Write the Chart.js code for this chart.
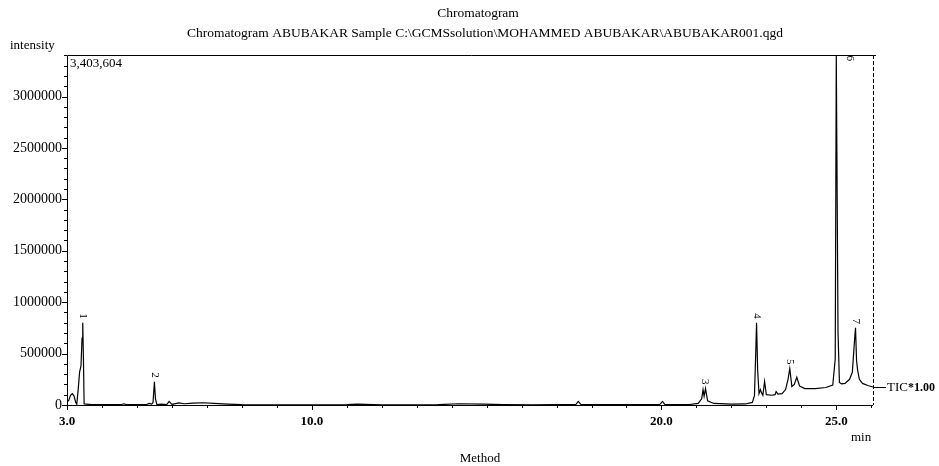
<!DOCTYPE html>
<html>
<head>
<meta charset="utf-8">
<script src="https://cdn.jsdelivr.net/npm/chart.js@4/dist/chart.umd.min.js"></script>
<style>
    html, body { margin: 0; padding: 0; background: #fff; }
    #chromChart { display: block; }
</style>
</head>
<body>
<canvas id="chromChart" width="939" height="466"></canvas>
<script>
// retention time (min) and TIC intensity
const times = [
    3.00, 3.05, 3.10, 3.15, 3.20, 3.25, 3.28, 3.32, 3.36, 3.40, 3.43, 3.45, 3.47, 3.49, 3.55,
    3.70, 4.00, 4.55, 4.62, 4.70, 5.00, 5.28, 5.35, 5.42, 5.46, 5.50, 5.53, 5.57, 5.70, 5.85,
    5.92, 6.00, 6.20, 6.35, 6.60, 6.90, 7.20, 7.60, 8.00, 9.00, 10.0, 11.0, 11.3, 12.0, 13.0,
    13.6, 14.2, 14.9, 15.5, 16.3, 17.0, 17.55, 17.62, 17.70, 18.5, 19.5, 19.95, 20.03, 20.10, 20.8,
    21.05, 21.15, 21.19, 21.22, 21.26, 21.32, 21.50, 22.00, 22.40, 22.60, 22.66, 22.70, 22.72, 22.75, 22.79,
    22.83, 22.86, 22.90, 22.95, 23.00, 23.15, 23.25, 23.28, 23.33, 23.45, 23.55, 23.62, 23.67, 23.73, 23.80,
    23.87, 23.95, 24.10, 24.40, 24.70, 24.90, 24.97, 25.00, 25.02, 25.05, 25.09, 25.15, 25.25, 25.38, 25.46,
    25.52, 25.55, 25.58, 25.61, 25.66, 25.75, 25.90, 26.05
];
const intensities = [
    30000, 45000, 95000, 110000, 90000, 25000, 8000, 150000, 320000, 380000, 650000, 800000, 450000, 10000, 8000,
    4000, 3000, 3000, 12000, 3000, 3000, 5000, 15000, 8000, 25000, 225000, 60000, 5000, 8000, 3000,
    35000, 6000, 20000, 12000, 18000, 22000, 15000, 8000, 3000, 2000, 2000, 3000, 9000, 2000, 2000,
    3000, 12000, 8000, 3000, 2000, 3000, 4000, 35000, 4000, 3000, 3000, 4000, 35000, 4000, 5000,
    15000, 60000, 150000, 85000, 160000, 40000, 15000, 8000, 10000, 25000, 90000, 550000, 800000, 350000, 110000,
    150000, 120000, 95000, 230000, 100000, 95000, 100000, 130000, 105000, 110000, 150000, 250000, 355000, 180000, 200000,
    270000, 185000, 160000, 160000, 170000, 195000, 450000, 3403604, 3403604, 700000, 220000, 205000, 210000, 250000, 320000,
    620000, 750000, 430000, 340000, 250000, 210000, 190000, 175000
];

const peakNames = ['1', '2', '3', '4', '5', '6', '7'];
const peakTimes = [3.45, 5.50, 21.24, 22.72, 23.67, 25.02, 25.55];
const peakHeights = [800000, 225000, 160000, 800000, 355000, 3403604, 750000];

const yMax = 3403604;
const xMin = 3.0;
const xMax = 26.05;
const yMajorTicks = [0, 500000, 1000000, 1500000, 2000000, 2500000, 3000000];
const xLabelledTicks = [3, 10, 20, 25];

const serif = '"Liberation Serif", "DejaVu Serif", serif';

const ctx = document.getElementById('chromChart').getContext('2d');

const overlay = {
    id: 'overlay',
    afterDraw(chart) {
        const c = chart.ctx;
        const a = chart.chartArea;
        const xs = chart.scales.x;
        const ys = chart.scales.y;
        c.save();
        c.strokeStyle = '#000';
        c.fillStyle = '#000';
        c.lineWidth = 1;

        // frame: top, left, bottom solid; right dashed
        c.beginPath();
        c.moveTo(a.left + 0.5, a.bottom + 0.5);
        c.lineTo(a.left + 0.5, a.top + 0.5);
        c.lineTo(a.right + 3, a.top + 0.5);
        c.moveTo(a.left, a.bottom + 0.5);
        c.lineTo(a.right, a.bottom + 0.5);
        c.stroke();
        c.setLineDash([4, 2]);
        c.beginPath();
        c.moveTo(a.right + 0.5, a.top);
        c.lineTo(a.right + 0.5, a.bottom);
        c.stroke();
        c.setLineDash([]);

        // y tick marks
        c.beginPath();
        for (let v = 0; v <= yMax; v += 100000) {
            const py = Math.round(ys.getPixelForValue(v)) + 0.5;
            const len = yMajorTicks.includes(v) ? 5 : 3;
            c.moveTo(a.left - len, py);
            c.lineTo(a.left, py);
        }
        // x tick marks
        for (let t = 3; t <= 26; t++) {
            const px = Math.round(xs.getPixelForValue(t)) + 0.5;
            const len = xLabelledTicks.includes(t) ? 5 : 3;
            c.moveTo(px, a.bottom);
            c.lineTo(px, a.bottom + len);
        }
        c.stroke();

        // titles and axis captions
        c.font = '13.5px ' + serif;
        c.textAlign = 'center';
        c.textBaseline = 'alphabetic';
        c.fillText('Chromatogram', 478, 17);
        c.fillText('Chromatogram ABUBAKAR Sample C:\\GCMSsolution\\MOHAMMED ABUBAKAR\\ABUBAKAR001.qgd', 485, 37);
        c.font = '13px ' + serif;
        c.fillText('Method', 480, 462);
        c.textAlign = 'left';
        c.fillText('intensity', 10, 49);
        c.fillText('3,403,604', a.left + 3, a.top + 12);
        c.fillText('min', 851, 441);

        // TIC label joined to end of trace
        const endY = Math.round(ys.getPixelForValue(intensities[intensities.length - 1])) + 0.5;
        c.beginPath();
        c.moveTo(a.right, endY);
        c.lineTo(a.right + 13, endY);
        c.stroke();
        c.textBaseline = 'middle';
        c.fillText('TIC', a.right + 14, endY);
        const ticW = c.measureText('TIC').width;
        c.font = 'bold 12px ' + serif;
        c.fillText('*1.00', a.right + 14 + ticW, endY);

        // peak numbers, rotated
        c.font = '11px ' + serif;
        peakNames.forEach((name, i) => {
            let px = xs.getPixelForValue(peakTimes[i]);
            let py = ys.getPixelForValue(peakHeights[i]) - 4;
            if (py < a.top + 10) {
                px += 13;
                py = a.top + 6;
            }
            c.save();
            c.translate(px, py);
            c.rotate(Math.PI / 2);
            c.textAlign = 'right';
            c.textBaseline = 'middle';
            c.fillText(name, 0, 0);
            c.restore();
        });
        c.restore();
    }
};

const chromChart = new Chart(ctx, {
    type: 'line',
    data: {
        datasets: [{
            label: 'TIC',
            data: times.map((t, i) => ({ x: t, y: intensities[i] })),
            borderColor: '#000',
            borderWidth: 1.2,
            pointRadius: 0,
            tension: 0,
            fill: false
        }]
    },
    options: {
        responsive: false,
        animation: false,
        devicePixelRatio: 1,
        layout: {
            padding: { left: 0, right: 66, top: 55, bottom: 34 }
        },
        plugins: {
            legend: { display: false },
            tooltip: { enabled: false }
        },
        scales: {
            x: {
                type: 'linear',
                min: xMin,
                max: xMax,
                grid: { display: false, drawTicks: false },
                border: { display: false },
                afterBuildTicks: (scale) => {
                    const ticks = [];
                    for (let t = 3; t <= 26; t++) ticks.push({ value: t });
                    scale.ticks = ticks;
                },
                afterFit: (scale) => { scale.height = 27; },
                ticks: {
                    autoSkip: false,
                    maxRotation: 0,
                    padding: 9,
                    color: '#000',
                    font: { family: serif, size: 13, weight: 'bold' },
                    callback: (v) => xLabelledTicks.includes(v) ? v.toFixed(1) : ''
                }
            },
            y: {
                min: 0,
                max: yMax,
                grid: { display: false, drawTicks: false },
                border: { display: false },
                afterBuildTicks: (scale) => {
                    scale.ticks = yMajorTicks.map(v => ({ value: v }));
                },
                afterFit: (scale) => { scale.width = 67; },
                ticks: {
                    padding: 5,
                    color: '#000',
                    font: { family: serif, size: 14 },
                    callback: (v) => String(v)
                }
            }
        }
    },
    plugins: [overlay]
});
</script>
</body>
</html>
